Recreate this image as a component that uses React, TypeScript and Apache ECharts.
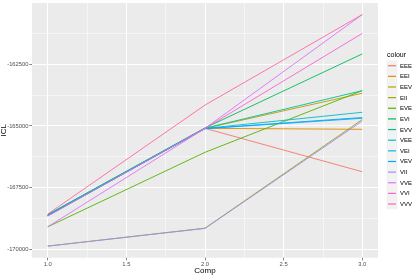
import React, { useEffect, useRef } from "react";
import * as echarts from "echarts";

const comp = [1, 2, 3];
const models = ["EEE", "EEI", "EEV", "EII", "EVE", "EVI", "EVV", "VEE", "VEI", "VEV", "VII", "VVE", "VVI", "VVV"];
const EEE = [-168620, -165107, -166865];
const EEI = [-168630, -165107, -165146];
const EEV = [-168640, -165110, -163687];
const EII = [-169877, -169150, -164750];
const EVE = [-169095, -166078, -163581];
const EVI = [-168600, -165090, -162093];
const EVV = [-168610, -165100, -163581];
const VEE = [-168630, -165110, -164457];
const VEI = [-168650, -165120, -164700];
const VEV = [-168640, -165115, -164670];
const VII = [-169877, -169160, -164811];
const VVE = [-169095, -165107, -160500];
const VVI = [-168660, -165107, -161262];
const VVV = [-168580, -164165, -160500];
const seriesValues = [EEE, EEI, EEV, EII, EVE, EVI, EVV, VEE, VEI, VEV, VII, VVE, VVI, VVV];
const colors = ["#F8766D", "#E38900", "#C49A00", "#99A800", "#53B400", "#00BC56", "#00C094", "#00BFC4", "#00B6EB", "#06A4FF", "#A58AFF", "#DF70F8", "#FB61D7", "#FF66A8"];
const xMajor = [1, 1.5, 2, 2.5, 3];
const xMinor = [1.25, 1.75, 2.25, 2.75];
const yMajor = [-170000, -167500, -165000, -162500];
const yMinor = [-168750, -166250, -163750, -161250];

const FONT = "Liberation Sans";

export default function App() {
  const ref = useRef<HTMLDivElement>(null);
  useEffect(() => {
    if (!ref.current) return;
    const chart = echarts.init(ref.current, null, { renderer: "svg" });
    const all = seriesValues.flat();
    const lo = Math.min(...all);
    const hi = Math.max(...all);
    const pad = (hi - lo) * 0.05;
    const xLo = comp[0] - (comp[comp.length - 1] - comp[0]) * 0.05;
    const xHi = comp[comp.length - 1] + (comp[comp.length - 1] - comp[0]) * 0.05;
    const option: any = {
      animation: false,
      textStyle: { fontFamily: FONT },
      grid: { left: 32, right: 37, top: 3, bottom: 19.3, show: true, backgroundColor: "#EBEBEB", borderWidth: 0, containLabel: false, outerBoundsMode: "none" },
      title: { text: "colour", left: 387, top: 51, padding: 0, textStyle: { fontSize: 7, fontWeight: "normal", color: "#000", fontFamily: FONT } },
      legend: {
        orient: "vertical", left: 388, top: 60.4, padding: 0, itemWidth: 8, itemHeight: 1.2, itemGap: 0, icon: "rect",
        textStyle: { fontSize: 6, color: "#000", lineHeight: 10.64, fontFamily: FONT, padding: [0, 0, 0, -1] },
        data: models,
      },
      xAxis: [
        {
          type: "value", min: xLo, max: xHi, position: "bottom",
          axisLine: { show: false },
          axisTick: { show: true, customValues: xMajor, length: 2.7, lineStyle: { color: "#333", width: 0.6 } },
          axisLabel: { customValues: xMajor, formatter: (v: number) => v.toFixed(1), fontSize: 5.8, color: "#4D4D4D", margin: 3.5, fontFamily: FONT },
          splitLine: { show: true, lineStyle: { color: "#FFFFFF", width: 1 } },
          name: "Comp", nameLocation: "middle", nameGap: 9, nameMoveOverlap: false, nameTextStyle: { fontSize: 8, color: "#000", fontFamily: FONT },
        },
        {
          type: "value", min: xLo, max: xHi, position: "bottom",
          axisLine: { show: false },
          axisTick: { show: false, customValues: xMinor },
          axisLabel: { show: false, customValues: xMinor },
          splitLine: { show: true, lineStyle: { color: "#FFFFFF", width: 0.5 } },
        },
      ],
      yAxis: [
        {
          type: "value", min: lo - pad, max: hi + pad, position: "left",
          axisLine: { show: false },
          axisTick: { show: true, customValues: yMajor, length: 2.7, lineStyle: { color: "#333", width: 0.6 } },
          axisLabel: { customValues: yMajor, formatter: (v: number) => String(Math.round(v)), fontSize: 5.8, color: "#4D4D4D", margin: 3.5, fontFamily: FONT },
          splitLine: { show: true, lineStyle: { color: "#FFFFFF", width: 1 } },
          name: "ICL", nameLocation: "middle", nameGap: 25, nameRotate: 90, nameMoveOverlap: false, nameTextStyle: { fontSize: 8, color: "#000", fontFamily: FONT },
        },
        {
          type: "value", min: lo - pad, max: hi + pad, position: "left",
          axisLine: { show: false },
          axisTick: { show: false, customValues: yMinor },
          axisLabel: { show: false, customValues: yMinor },
          splitLine: { show: true, lineStyle: { color: "#FFFFFF", width: 0.5 } },
        },
      ],
      graphic: [
        { type: "rect", left: 386.5, top: 60.4, shape: { width: 11, height: 10.64 * models.length }, style: { fill: "#F2F2F2" }, z: -1 },
      ],
      series: models.map((m, i) => ({
        name: m,
        type: "line",
        xAxisIndex: 0,
        yAxisIndex: 0,
        symbol: "none",
        color: colors[i],
        itemStyle: { color: colors[i] },
        lineStyle: { width: 1, color: colors[i], opacity: 0.9 },
        data: comp.map((c, j) => [c, seriesValues[i][j]]),
      })),
    };
    chart.setOption(option);
    return () => chart.dispose();
  }, []);
  return <div ref={ref} style={{ position: "fixed", left: 0, top: 0, width: 415, height: 277 }} />;
}
